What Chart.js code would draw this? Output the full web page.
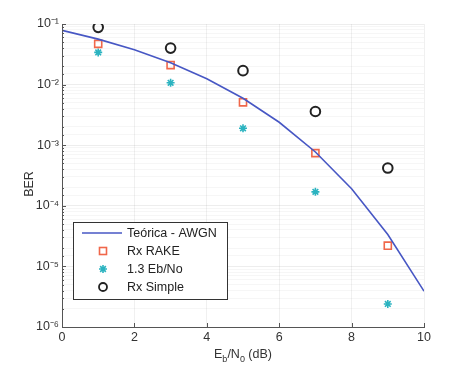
<!DOCTYPE html>
<html>
<head>
<meta charset="utf-8">
<script src="https://cdn.jsdelivr.net/npm/chart.js@4"></script>
<style>
    html, body { margin: 0; padding: 0; background: #fff; }
    #wrap { width: 471px; height: 375px; }
</style>
</head>
<body>
<div id="wrap"><canvas id="berChart" width="471" height="375"></canvas></div>
<script>
// values
const ebnoCurve = [0, 1, 2, 3, 4, 5, 6, 7, 8, 9, 10];
const berTheory = [0.0786, 0.0563, 0.0375, 0.0229, 0.0125, 0.00595, 0.00239, 0.000773, 0.000191, 0.0000336, 0.0000039];

const ebnoPoints = [1, 3, 5, 7, 9];
const berRake = [0.047, 0.021, 0.0051, 0.00074, 0.000022];
const berStar = [0.034, 0.0107, 0.0019, 0.00017, 0.0000024];
const berSimple = [0.088, 0.040, 0.017, 0.0036, 0.00042];

const seriesNames = ["Teórica - AWGN", "Rx RAKE", "1.3 Eb/No", "Rx Simple"];
const xTicks = [0, 2, 4, 6, 8, 10];

const supers = { "-": "⁻", "0": "⁰", "1": "¹", "2": "²", "3": "³", "4": "⁴", "5": "⁵", "6": "⁶", "7": "⁷", "8": "⁸", "9": "⁹" };
const toSup = (s) => String(s).split("").map((c) => supers[c] || c).join("");

const FONT = "'Liberation Sans', Arial, sans-serif";
const colors = {
    theory: "#4757c4",
    rake: "#f0674a",
    star: "#2bb3c0",
    simple: "#222222",
};

const pts = (xs, ys) => xs.map((x, i) => ({ x: x, y: ys[i] }));
const isDecade = (v) => {
    const e = Math.log10(v);
    return Math.abs(e - Math.round(e)) < 1e-9;
};

// legend box, axis titles and inward ticks, like the MATLAB figure
const extrasPlugin = {
    id: "extras",
    afterDatasetsDraw(chart) {
        const c = chart.ctx;
        const area = chart.chartArea;
        const xs = chart.scales.x;
        const ys = chart.scales.y;
        c.save();
        c.strokeStyle = "#555";
        c.lineWidth = 1;
        c.beginPath();
        xs.ticks.forEach((t) => {
            const px = Math.round(xs.getPixelForValue(t.value)) + 0.5;
            c.moveTo(px, area.bottom);
            c.lineTo(px, area.bottom - 4);
        });
        ys.ticks.forEach((t) => {
            const py = Math.round(ys.getPixelForValue(t.value)) + 0.5;
            c.moveTo(area.left, py);
            c.lineTo(area.left + (isDecade(t.value) ? 4 : 2), py);
        });
        c.stroke();
        c.restore();
    },
    afterDraw(chart) {
        const c = chart.ctx;
        c.save();
        // legend
        const bx = 73, by = 222, bw = 154, bh = 77;
        c.fillStyle = "#fff";
        c.fillRect(bx, by, bw, bh);
        c.strokeStyle = "#333";
        c.lineWidth = 1;
        c.strokeRect(bx + 0.5, by + 0.5, bw, bh);

        const rows = [233, 251, 269, 287];
        const mx = 103;
        c.font = "12.5px " + FONT;
        c.textBaseline = "middle";
        c.textAlign = "left";
        rows.forEach((ry, i) => {
            if (i === 0) {
                c.strokeStyle = colors.theory;
                c.lineWidth = 1.6;
                c.beginPath();
                c.moveTo(82, ry);
                c.lineTo(122, ry);
                c.stroke();
            } else if (i === 1) {
                c.strokeStyle = colors.rake;
                c.lineWidth = 1.6;
                c.strokeRect(mx - 3.5, ry - 3.5, 7, 7);
            } else if (i === 2) {
                c.strokeStyle = colors.star;
                c.lineWidth = 1.6;
                c.beginPath();
                for (let k = 0; k < 4; k++) {
                    const a = k * Math.PI / 4;
                    c.moveTo(mx - 4 * Math.cos(a), ry - 4 * Math.sin(a));
                    c.lineTo(mx + 4 * Math.cos(a), ry + 4 * Math.sin(a));
                }
                c.stroke();
            } else {
                c.strokeStyle = colors.simple;
                c.lineWidth = 1.8;
                c.beginPath();
                c.arc(mx, ry, 4, 0, Math.PI * 2);
                c.stroke();
            }
            c.fillStyle = "#222";
            c.fillText(seriesNames[i], 127, ry + 1);
        });

        // x title with subscripts
        c.fillStyle = "#333";
        c.textBaseline = "alphabetic";
        const parts = [
            ["E", false], ["b", true], ["/N", false], ["0", true], [" (dB)", false],
        ];
        let total = 0;
        parts.forEach(([t, sub]) => {
            c.font = (sub ? "9px " : "12.5px ") + FONT;
            total += c.measureText(t).width;
        });
        let x = 243 - total / 2;
        parts.forEach(([t, sub]) => {
            c.font = (sub ? "9px " : "12.5px ") + FONT;
            c.fillText(t, x, sub ? 362 : 358);
            x += c.measureText(t).width;
        });

        // y title
        c.save();
        c.translate(30, 184);
        c.rotate(-Math.PI / 2);
        c.textAlign = "center";
        c.textBaseline = "middle";
        c.font = "12.5px " + FONT;
        c.fillText("BER", 0, 0);
        c.restore();

        c.restore();
    },
};

const ctx = document.getElementById("berChart").getContext("2d");
new Chart(ctx, {
    type: "scatter",
    data: {
        datasets: [
            {
                label: seriesNames[0],
                data: pts(ebnoCurve, berTheory),
                showLine: true,
                borderColor: colors.theory,
                borderWidth: 1.6,
                pointRadius: 0,
                tension: 0,
            },
            {
                label: seriesNames[1],
                data: pts(ebnoPoints, berRake),
                pointStyle: "rect",
                pointRadius: 5,
                borderColor: colors.rake,
                backgroundColor: "rgba(0,0,0,0)",
                borderWidth: 1.6,
            },
            {
                label: seriesNames[2],
                data: pts(ebnoPoints, berStar),
                pointStyle: "star",
                pointRadius: 4,
                borderColor: colors.star,
                backgroundColor: colors.star,
                borderWidth: 1.6,
            },
            {
                label: seriesNames[3],
                data: pts(ebnoPoints, berSimple),
                pointStyle: "circle",
                pointRadius: 4.8,
                borderColor: colors.simple,
                backgroundColor: "rgba(0,0,0,0)",
                borderWidth: 2,
            },
        ],
    },
    options: {
        responsive: false,
        animation: false,
        layout: { padding: { top: 24, right: 47, left: 0, bottom: 0 } },
        plugins: {
            legend: { display: false },
            tooltip: { enabled: false },
        },
        scales: {
            x: {
                type: "linear",
                min: 0,
                max: 10,
                afterBuildTicks: (scale) => {
                    scale.ticks = xTicks.map((v) => ({ value: v }));
                },
                afterFit: (scale) => {
                    scale.height = 48;
                },
                ticks: {
                    color: "#333",
                    font: { family: FONT, size: 12.5 },
                    padding: 3,
                    maxRotation: 0,
                },
                grid: {
                    color: "rgba(0,0,0,0.06)",
                    drawTicks: false,
                },
                border: { color: "#555", width: 1 },
            },
            y: {
                type: "logarithmic",
                min: 1e-6,
                max: 1e-1,
                afterFit: (scale) => {
                    scale.width = 62;
                },
                ticks: {
                    color: "#333",
                    font: { family: FONT, size: 12.5 },
                    padding: 3,
                    autoSkip: false,
                    callback: (value) => (isDecade(value) ? "10" + toSup(Math.round(Math.log10(value))) : ""),
                },
                grid: {
                    drawTicks: false,
                    color: (context) => {
                        const v = context.tick ? context.tick.value : 1;
                        return isDecade(v) ? "rgba(0,0,0,0.07)" : "rgba(0,0,0,0.035)";
                    },
                },
                border: { color: "#555", width: 1 },
            },
        },
    },
    plugins: [extrasPlugin],
});
</script>
</body>
</html>
